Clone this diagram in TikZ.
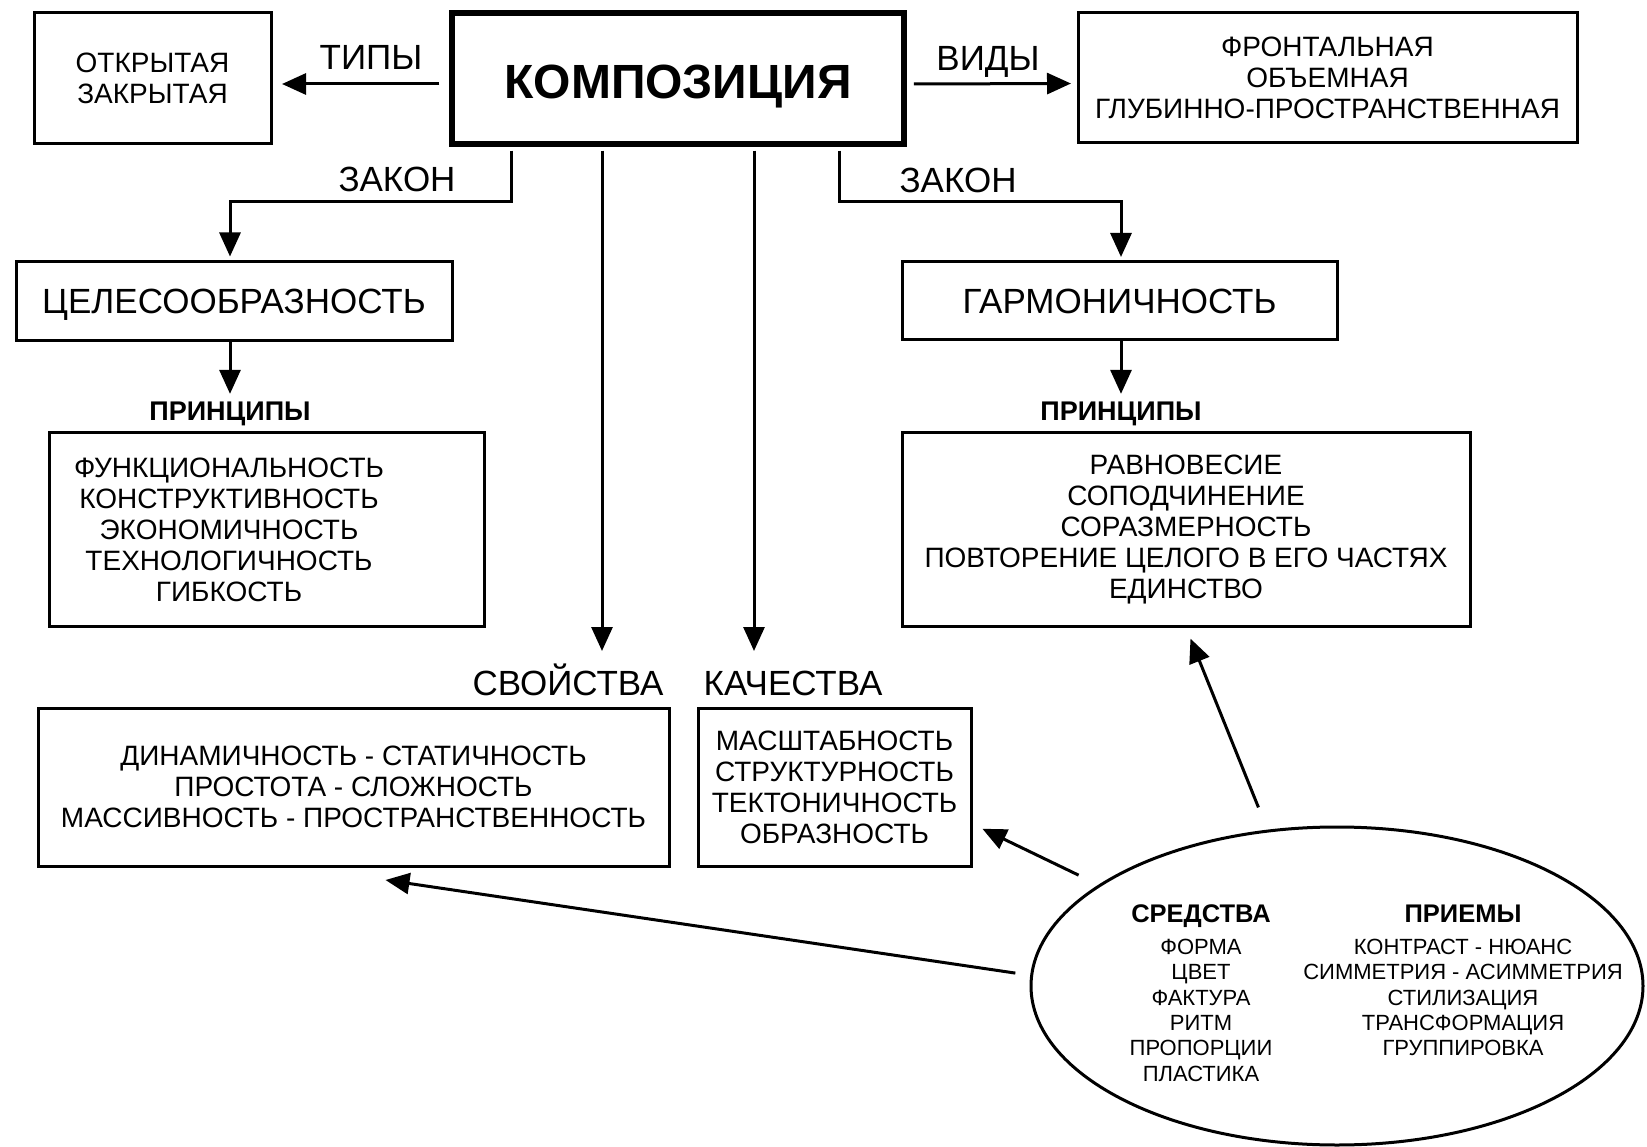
\documentclass[tikz,border=0pt]{standalone}
\usepackage{fontspec}
\setmainfont{Liberation Sans}
\usetikzlibrary{arrows.meta, positioning, shapes.geometric}

\begin{document}
\begin{tikzpicture}[x=1pt,y=-1pt,line width=3pt,>={Triangle[length=24pt,width=21pt]},
	box/.style={draw,inner sep=0pt,align=center,font=\fontsize{28}{31}\selectfont},
	lbl/.style={inner sep=0pt,text height=25pt,text depth=0pt,font=\fontsize{35}{40}\selectfont},
	head/.style={inner sep=0pt,text height=19.3pt,text depth=0pt,font=\bfseries\fontsize{27}{31}\selectfont},
	small/.style={inner sep=0pt,align=center,font=\fontsize{22}{25.3}\selectfont}]
	
	\useasboundingbox (0,0) rectangle (1647,1147);
	
	\node[box,line width=5.5pt,minimum width=452pt,minimum height=131pt,text height=41pt,text depth=0pt,font=\bfseries\fontsize{48}{52}\selectfont] (komp) at (678,78.5) {КОМПОЗИЦИЯ};
	\node[box,minimum width=237pt,minimum height=131pt] (tipy) at (152.5,78.5) {ОТКРЫТАЯ\\ЗАКРЫТАЯ};
	\node[box,minimum width=499pt,minimum height=130pt] (vidy) at (1327.5,78) {ФРОНТАЛЬНАЯ\\ОБЪЕМНАЯ\\ГЛУБИННО-ПРОСТРАНСТВЕННАЯ};
	\node[lbl] (l_tipy) at (371,57) {ТИПЫ};
	\node[lbl] (l_vidy) at (988,58) {ВИДЫ};
	\node[lbl] (l_zak1) at (397,179) {ЗАКОН};
	\node[lbl] (l_zak2) at (958,180) {ЗАКОН};
	
	\node[box,text height=25pt,text depth=0pt,font=\fontsize{35}{40}\selectfont,minimum width=436pt,minimum height=79pt] (cel) at (234,301) {ЦЕЛЕСООБРАЗНОСТЬ};
	\node[box,text height=25pt,text depth=0pt,font=\fontsize{35}{40}\selectfont,minimum width=435pt,minimum height=78pt] (garm) at (1119.5,301) {ГАРМОНИЧНОСТЬ};
	\node[head] (pr_l) at (230,411) {ПРИНЦИПЫ};
	\node[head] (pr_r) at (1121,411) {ПРИНЦИПЫ};
	\node[box,minimum width=435pt,minimum height=193pt] (sp_l) at (266.5,529.5) {};
	\node[box,draw=none] (sp_ltxt) at (229,529.5) {ФУНКЦИОНАЛЬНОСТЬ\\КОНСТРУКТИВНОСТЬ\\ЭКОНОМИЧНОСТЬ\\ТЕХНОЛОГИЧНОСТЬ\\ГИБКОСТЬ};
	\node[box,minimum width=568pt,minimum height=193pt] (sp_r) at (1186,529.5) {РАВНОВЕСИЕ\\СОПОДЧИНЕНИЕ\\СОРАЗМЕРНОСТЬ\\ПОВТОРЕНИЕ ЦЕЛОГО В ЕГО ЧАСТЯХ\\ЕДИНСТВО};
	
	\node[lbl] (svoj) at (568,683) {СВОЙСТВА};
	\node[lbl] (kach) at (793,683) {КАЧЕСТВА};
	\node[box,minimum width=631pt,minimum height=158pt] (sv_box) at (353.5,787) {ДИНАМИЧНОСТЬ - СТАТИЧНОСТЬ\\ПРОСТОТА - СЛОЖНОСТЬ\\МАССИВНОСТЬ - ПРОСТРАНСТВЕННОСТЬ};
	\node[box,minimum width=273pt,minimum height=158pt] (ka_box) at (834.5,787) {МАСШТАБНОСТЬ\\СТРУКТУРНОСТЬ\\ТЕКТОНИЧНОСТЬ\\ОБРАЗНОСТЬ};
	
	\node[draw,ellipse,minimum width=612pt,minimum height=318pt,inner sep=0pt] (sred) at (1337,986) {};
	\node[small] (sr_txt) at (1201,993) {{\bfseries\fontsize{25.5}{25.3}\selectfont СРЕДСТВА}\\[6.7pt]ФОРМА\\ЦВЕТ\\ФАКТУРА\\РИТМ\\ПРОПОРЦИИ\\ПЛАСТИКА};
	\node[small] (pm_txt) at (1463,980.5) {{\bfseries\fontsize{25.5}{25.3}\selectfont ПРИЕМЫ}\\[6.7pt]КОНТРАСТ - НЮАНС\\СИММЕТРИЯ - АСИММЕТРИЯ\\СТИЛИЗАЦИЯ\\ТРАНСФОРМАЦИЯ\\ГРУППИРОВКА};
	
	\draw[->,shorten <=10pt,shorten >=9.5pt] ([yshift=-5.5pt]komp.west) -- ([yshift=-5.5pt]tipy.east);
	\draw[->,shorten <=7pt,shorten >=5.5pt] ([yshift=-5.5pt]komp.east) -- ([yshift=-5.5pt]vidy.west);
	\draw[->,shorten <=4pt,shorten >=3.5pt] ([xshift=-167pt]komp.south) -- ++(0,55) -| (cel.north -| pr_l.north);
	\draw[->,shorten <=4pt,shorten >=3.5pt] ([xshift=161pt]komp.south) -- ++(0,55) -| (garm.north -| pr_r.north);
	\draw[->,shorten <=4pt,shorten >=18pt] ([xshift=-76pt]komp.south) -- ([xshift=-76pt]komp.south |- svoj.north);
	\draw[->,shorten <=4pt,shorten >=18pt] ([xshift=76pt]komp.south) -- ([xshift=76pt]komp.south |- kach.north);
	\draw[->,shorten >=6pt] (cel.south -| pr_l.north) -- (pr_l.north);
	\draw[->,shorten >=6pt] (garm.south -| pr_r.north) -- (pr_r.north);
	
	\draw[->,shorten <=24pt,shorten >=12pt] (sred.114) -- (sp_r.south);
	\draw[->,shorten <=22pt,shorten >=11pt] (sred.157) -- (ka_box.-15);
	\draw[->,shorten <=15pt] (sred.178) -- ([xshift=32pt,yshift=-12.5pt]sv_box.south);
\end{tikzpicture}
\end{document}
